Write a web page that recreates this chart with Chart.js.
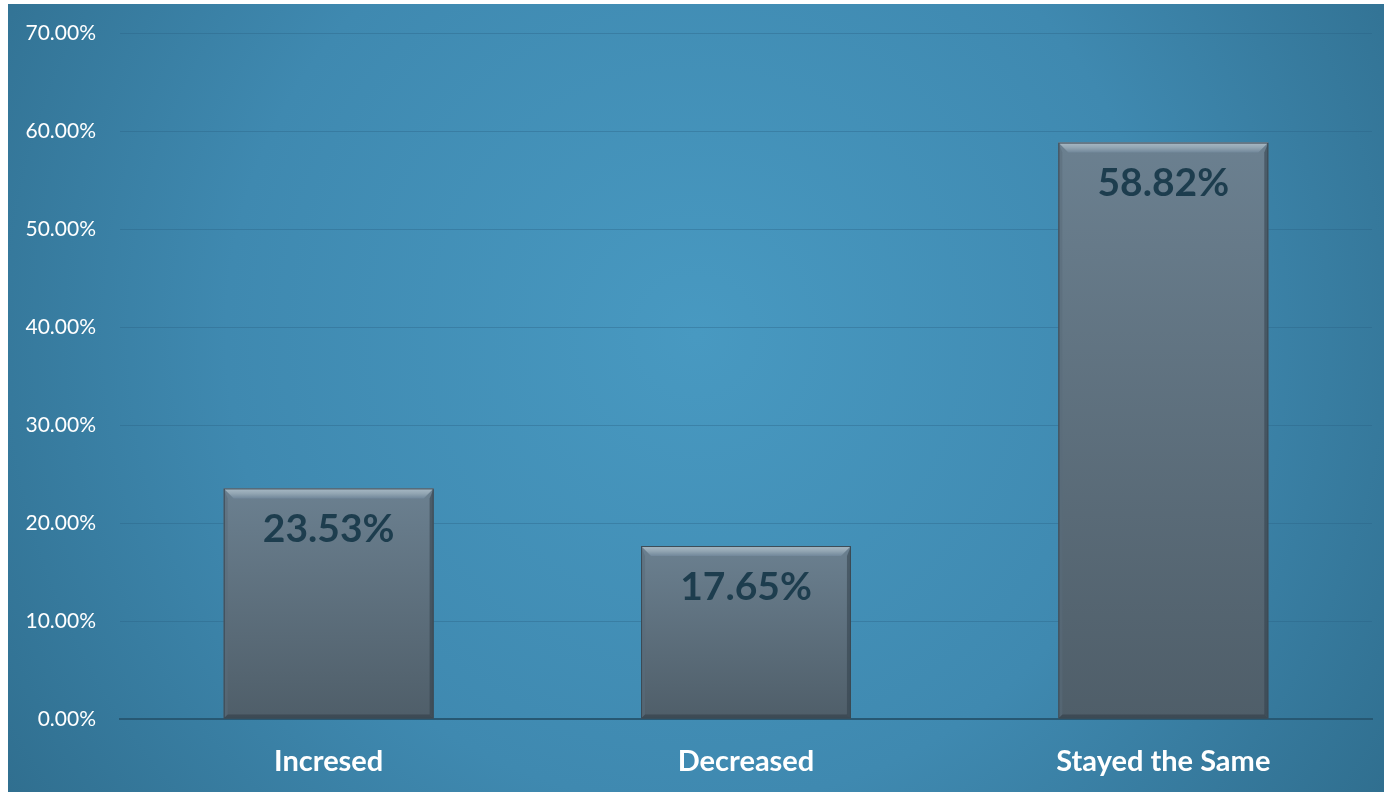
<!DOCTYPE html>
<html>
<head>
<meta charset="utf-8">
<script src="https://cdn.jsdelivr.net/npm/chart.js@4"></script>
<style>
  html, body { margin: 0; padding: 0; background: #fff; }
  #wrap { position: absolute; left: 8px; top: 4px; width: 1376px; height: 788px; }
</style>
</head>
<body>
<div id="wrap"><canvas id="chart"></canvas></div>
<script>
// categories and values
const categories = ["Incresed", "Decreased", "Stayed the Same"];
const shares = [23.53, 17.65, 58.82];
const yTicks = [0, 10, 20, 30, 40, 50, 60, 70];

const FONT = "Lato, 'Open Sans', sans-serif";

// radial blue backdrop behind everything
const backdrop = {
  id: "backdrop",
  beforeDraw(chart) {
    const { ctx, width, height } = chart;
    const g = ctx.createRadialGradient(width * 0.5, height * 0.42, 0, width * 0.5, height * 0.42, width * 0.62);
    g.addColorStop(0, "#4899c1");
    g.addColorStop(0.55, "#3f89b0");
    g.addColorStop(1, "#2f6d8d");
    ctx.save();
    ctx.fillStyle = g;
    ctx.fillRect(0, 0, width, height);
    ctx.restore();
  },
};

// bevel edges and value labels on each bar
const bevel = {
  id: "bevel",
  afterDatasetsDraw(chart) {
    const { ctx } = chart;
    const meta = chart.getDatasetMeta(0);
    meta.data.forEach((bar, i) => {
      const p = bar.getProps(["x", "y", "base", "width"], true);
      const l = p.x - p.width / 2, r = p.x + p.width / 2, t = p.y, b = p.base;
      const d = 10;
      ctx.save();
      // top bevel
      let g = ctx.createLinearGradient(0, t, 0, t + d);
      g.addColorStop(0, "#a9bac6");
      g.addColorStop(0.5, "#93a6b3");
      g.addColorStop(1, "#71879a");
      ctx.fillStyle = g;
      ctx.beginPath();
      ctx.moveTo(l, t); ctx.lineTo(r, t); ctx.lineTo(r - d, t + d); ctx.lineTo(l + d, t + d);
      ctx.closePath(); ctx.fill();
      // left bevel
      ctx.fillStyle = "rgba(90,108,122,0.55)";
      ctx.beginPath();
      ctx.moveTo(l, t); ctx.lineTo(l + 4, t + d); ctx.lineTo(l + 4, b - 4); ctx.lineTo(l, b);
      ctx.closePath(); ctx.fill();
      // right bevel
      ctx.fillStyle = "rgba(50,64,74,0.55)";
      ctx.beginPath();
      ctx.moveTo(r, t); ctx.lineTo(r - 4, t + d); ctx.lineTo(r - 4, b - 4); ctx.lineTo(r, b);
      ctx.closePath(); ctx.fill();
      // bottom bevel
      ctx.fillStyle = "rgba(50,62,72,0.6)";
      ctx.beginPath();
      ctx.moveTo(l, b); ctx.lineTo(l + 4, b - 4); ctx.lineTo(r - 4, b - 4); ctx.lineTo(r, b);
      ctx.closePath(); ctx.fill();
      // outline
      ctx.strokeStyle = "#3b4a55";
      ctx.lineWidth = 1;
      ctx.strokeRect(l + 0.5, t + 0.5, r - l - 1, b - t - 1);
      // value label
      ctx.fillStyle = "#1d3d4e";
      ctx.font = "bold 39px " + FONT;
      ctx.textAlign = "center";
      ctx.textBaseline = "middle";
      ctx.fillText(shares[i].toFixed(2) + "%", p.x, t + 41);
      ctx.restore();
    });
  },
};

function barFill(context) {
  const chart = context.chart;
  if (!chart.chartArea) return "#5f7382";
  const yScale = chart.scales.y;
  const top = yScale.getPixelForValue(shares[context.dataIndex]);
  const bottom = yScale.getPixelForValue(0);
  const g = chart.ctx.createLinearGradient(0, top, 0, bottom);
  g.addColorStop(0, "#6b8090");
  g.addColorStop(1, "#4f5e69");
  return g;
}

new Chart(document.getElementById("chart"), {
  type: "bar",
  data: {
    labels: categories,
    datasets: [{
      data: shares,
      backgroundColor: barFill,
      borderWidth: 0,
      barPercentage: 0.503,
      categoryPercentage: 1,
    }],
  },
  options: {
    responsive: true,
    maintainAspectRatio: false,
    animation: false,
    layout: { padding: { top: 29, right: 12, left: 0, bottom: 0 } },
    plugins: {
      legend: { display: false },
      tooltip: { enabled: false },
    },
    scales: {
      y: {
        min: 0,
        max: 70,
        afterBuildTicks(scale) {
          scale.ticks = yTicks.map((v) => ({ value: v }));
        },
        afterFit(scale) {
          scale.width = 112;
          scale.paddingTop = 0;
          scale.paddingBottom = 0;
        },
        ticks: {
          color: "#ffffff",
          padding: 24,
          font: { family: FONT, size: 21 },
          callback: (v) => v.toFixed(2) + "%",
        },
        grid: {
          color: (c) => (c.tick.value === 0 ? "rgba(0,0,0,0)" : "rgba(40,95,130,0.35)"),
          lineWidth: 1,
          drawTicks: false,
        },
        border: { display: false },
      },
      x: {
        afterFit(scale) { scale.height = 73; },
        ticks: {
          color: "#ffffff",
          padding: 25,
          font: { family: FONT, size: 29, weight: "bold" },
        },
        grid: { display: false, drawTicks: false },
        border: { display: true, color: "#275873", width: 2 },
      },
    },
  },
  plugins: [backdrop, bevel],
});
</script>
</body>
</html>
